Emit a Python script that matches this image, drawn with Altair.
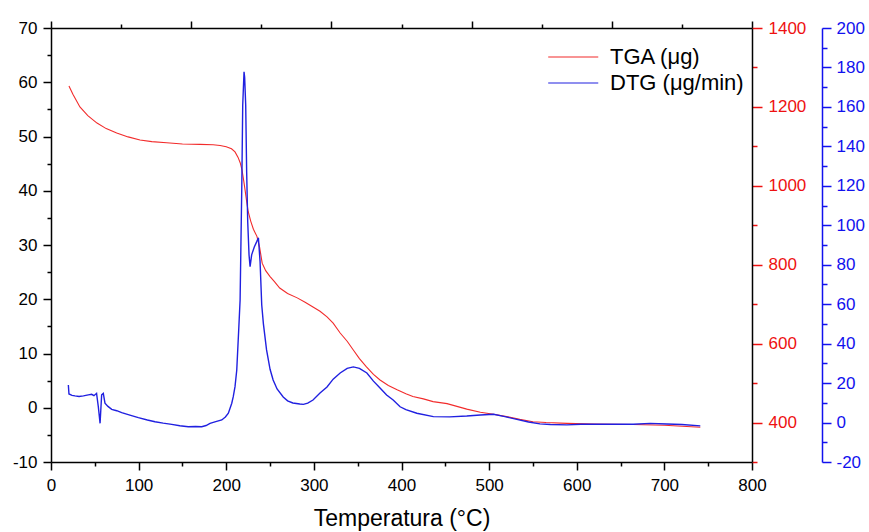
import altair as alt
import pandas as pd

FONT = "Liberation Sans"
RED = "#f22b2b"
BLUE = "#2020e0"
RED_TXT = "#ee1111"
BLUE_TXT = "#1111ee"

series_names = ["TGA (\u03bcg)", "DTG (\u03bcg/min)"]

# TGA curve (temperature in °C, mass in µg)
tga_temp = [20.5, 25, 33, 42, 52.5, 63, 75, 88, 101.6, 115, 132, 150, 170, 185, 193,
            200, 206, 210, 213.5, 216, 218, 220, 221.5, 223, 225, 228, 231, 235, 238,
            241, 245, 250, 255, 261, 270, 281, 290, 299, 307, 315, 322, 330, 338, 345,
            352, 360, 368, 375.5, 385, 395, 405, 413, 425, 436, 452, 474.5, 490, 505,
            520, 535, 550, 565, 589, 620, 664, 700, 741]
tga_mass = [1253, 1232, 1200, 1178, 1159, 1145, 1134, 1124, 1116, 1112, 1109, 1106, 1105,
            1104, 1102, 1099, 1094, 1086, 1072, 1058, 1040, 1012, 989, 965, 935, 910, 890,
            872, 845, 804, 785, 770, 757, 741, 727, 716, 705, 693, 682, 668, 652, 627, 606,
            584, 562, 541, 522, 508, 494, 483, 473, 466, 460, 453, 448, 434, 426, 421, 415,
            408, 402, 400, 398, 396, 395, 393, 388]

# DTG curve (temperature in °C, rate in µg/min)
dtg_temp = [19.8, 20.5, 24, 27.4, 32, 37, 42.6, 46.4, 49, 52, 54, 56, 57.8, 59.7, 61.6,
            65, 69.3, 75, 80.7, 90, 99.7, 110, 118.7, 128, 137.8, 147, 156.7, 165, 172,
            177, 181.5, 188, 194.9, 199, 202.4, 206.3, 208, 210, 212, 214, 215.8, 217.7,
            218.8, 220.3, 221, 222.2, 223.3, 224.5, 226, 227.2, 229, 232, 234.8, 236.7,
            238.6, 240.5, 242.4, 246, 250, 253.5, 258, 265, 270, 276, 284, 288, 293, 299,
            307, 315, 322, 330, 338, 345, 352, 360.5, 368, 375.5, 383, 390.5, 398.4, 405,
            417.5, 436.4, 455, 474.5, 490, 505, 518, 531.6, 545, 558, 570, 588.7, 605,
            626.7, 645, 664.4, 683.8, 702.8, 720, 741]
dtg_rate = [19.0, 14.5, 13.8, 13.5, 13.2, 13.5, 14.0, 14.3, 13.6, 14.8, 8.0, -0.4, 14.0,
            14.8, 9.8, 8.2, 6.7, 6.0, 5.0, 3.8, 2.5, 1.3, 0.4, -0.3, -0.9, -1.6, -2.1, -2.0,
            -2.1, -1.5, -0.4, 0.5, 1.3, 2.8, 4.7, 9.8, 13.1, 18.2, 26.6, 45, 62, 118.7, 161,
            177.8, 175, 161, 127, 101.8, 85, 79, 85, 89, 91.7, 93.7, 81.5, 59.6, 50, 36.8,
            27, 21.6, 17, 13.0, 11, 9.9, 9.4, 9.2, 9.8, 11.4, 15.0, 18.0, 22, 25.1, 27.5,
            28.2, 27.5, 25.1, 21, 17.5, 14, 11.4, 8.0, 6.5, 4.7, 3.0, 2.9, 3.3, 3.8, 4.2,
            3.0, 1.6, 0.3, -0.7, -1.0, -1.2, -0.9, -0.9, -0.8, -0.9, -0.4, -0.7, -1.0, -1.7]

x_ticks = list(range(0, 801, 50))
top_ticks = list(range(0, 801, 80))
left_ticks = list(range(-10, 71, 5))
red_ticks = list(range(300, 1401, 100))
blue_ticks = list(range(-20, 201, 10))

frame_df = pd.DataFrame({"T": [0, 800], "v": [-10, 70]})
tga_df = pd.DataFrame({"T": tga_temp, "v": tga_mass, "series": series_names[0]})
dtg_df = pd.DataFrame({"T": dtg_temp, "v": dtg_rate, "series": series_names[1]})


def cond(test, a, b):
    return {"condition": {"test": test, "value": a}, "value": b}


def lab(step):
    return f"datum.value % {step} === 0 ? '' + datum.value : ''"


xscale = alt.Scale(domain=[0, 800], nice=False, zero=False)

common = dict(labelFont=FONT, labelFontSize=17, grid=False, labelOverlap=False,
              tickWidth=1.5, domainWidth=1.5)

frame = alt.Chart(frame_df).mark_point(opacity=0).encode(
    x=alt.X("T:Q", scale=xscale, axis=alt.Axis(
        values=x_ticks, orient="bottom", labelExpr=lab(100),
        tickSize=cond("datum.value % 100 === 0", 8, 4),
        labelPadding=7, labelFlush=False, labelColor="black",
        domainColor="black", tickColor="black",
        title="Temperatura (\u00b0C)", titleFont=FONT, titleFontSize=23,
        titleFontWeight="normal", titleColor="black", titlePadding=14, **common)),
    y=alt.Y("v:Q", scale=alt.Scale(domain=[-10, 70], nice=False, zero=False), axis=alt.Axis(
        values=left_ticks, orient="left", labelExpr=lab(10),
        tickSize=cond("datum.value % 10 === 0", 8, 4),
        labelPadding=6, labelColor="black", domainColor="black", tickColor="black",
        title=None, **common)),
)

top = alt.Chart(frame_df).mark_point(opacity=0).encode(
    x=alt.X("T:Q", scale=xscale, axis=alt.Axis(
        values=top_ticks, orient="top", labels=False,
        tickSize=cond("datum.value % 160 === 0", 7, 4),
        domainColor="black", tickColor="black", title=None, **common)),
    y=alt.Y("v:Q", scale=alt.Scale(domain=[-10, 70], nice=False, zero=False), axis=None),
)

color = alt.Color("series:N", scale=alt.Scale(domain=series_names, range=[RED, BLUE]),
                  legend=alt.Legend(orient="none", legendX=533, legendY=18, title=None,
                                    symbolType="M-7.2,0H0.5", symbolSize=169,
                                    symbolStrokeWidth=1.2, labelFont=FONT, labelFontSize=22,
                                    labelColor="black", labelOffset=4, rowPadding=4,
                                    padding=0, labelLimit=400))

tga = alt.Chart(tga_df).mark_line(strokeWidth=1.1).encode(
    x=alt.X("T:Q", scale=xscale, axis=None),
    y=alt.Y("v:Q", scale=alt.Scale(domain=[300, 1400], nice=False, zero=False), axis=alt.Axis(
        values=red_ticks, orient="right", labelExpr=lab(200),
        tickSize=cond("datum.value % 200 === 0", 10, 5),
        labelPadding=6, labelColor=RED_TXT, tickColor=RED_TXT, domainColor="black",
        title=None, **common)),
    color=color,
    order="T:Q",
)

dtg = alt.Chart(dtg_df).mark_line(strokeWidth=1.4).encode(
    x=alt.X("T:Q", scale=xscale, axis=None),
    y=alt.Y("v:Q", scale=alt.Scale(domain=[-20, 200], nice=False, zero=False), axis=alt.Axis(
        values=blue_ticks, orient="right", offset=70, labelExpr=lab(20),
        tickSize=cond("datum.value % 20 === 0", 9, 5),
        labelPadding=5, labelColor=BLUE_TXT, tickColor=BLUE_TXT, domainColor=BLUE_TXT,
        title=None, **common)),
    color=color,
    order="T:Q",
)

chart = alt.layer(frame, top, tga, dtg).resolve_scale(
    y="independent"
).resolve_axis(
    x="independent", y="independent"
).properties(
    width=701, height=434,
    autosize=alt.AutoSizeParams(type="none"),
    padding={"left": 51, "top": 28, "right": 117, "bottom": 70},
    background="white",
).configure_view(stroke="transparent")

chart.save("out.html", embed_options={"renderer": "svg", "actions": False})
